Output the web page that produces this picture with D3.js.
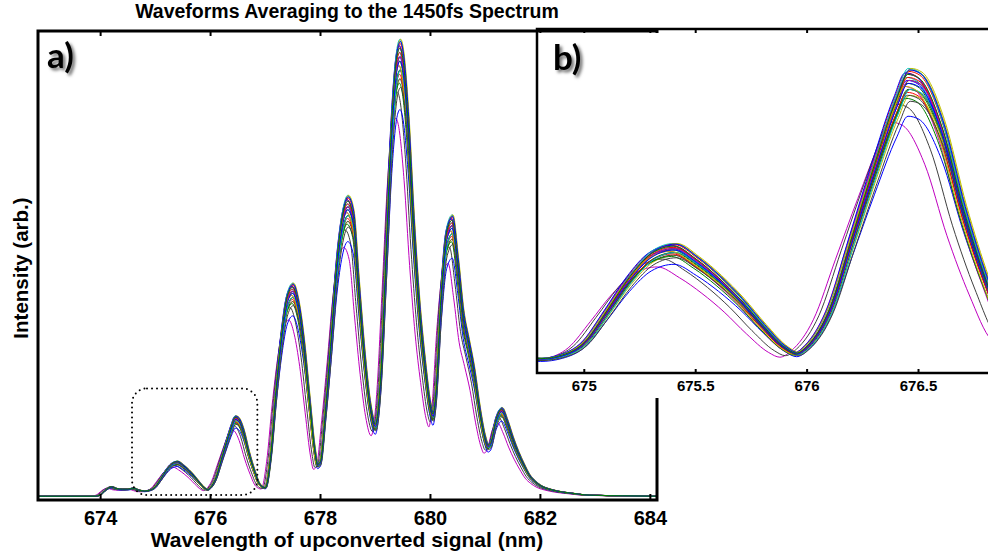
<!DOCTYPE html>
<html>
<head>
<meta charset="utf-8">
<script src="https://cdn.jsdelivr.net/npm/d3@7"></script>
<style>
  body { margin: 0; background: #fff; }
  svg { display: block; }
</style>
</head>
<body>
<script>
/* data */

// wavelength grid (nm) and the averaged spectrum on it (arb. units, 1 = top of panel a)
var wavelengths = [672.87, 673.0, 673.5, 673.9, 674.0, 674.1, 674.2, 674.3, 674.4, 674.5,
    674.6, 674.7, 674.8, 674.9, 675.0, 675.1, 675.2, 675.3, 675.4, 675.5,
    675.6, 675.7, 675.8, 675.9, 675.95, 676.0, 676.1, 676.2, 676.3, 676.4,
    676.45, 676.5, 676.6, 676.7, 676.8, 676.9, 677.0, 677.1, 677.2, 677.3,
    677.4, 677.5, 677.6, 677.7, 677.8, 677.9, 677.95, 678.0, 678.1, 678.2,
    678.3, 678.4, 678.5, 678.6, 678.7, 678.8, 678.9, 679.0, 679.1, 679.2,
    679.3, 679.4, 679.45, 679.5, 679.6, 679.7, 679.8, 679.9, 680.0, 680.05,
    680.1, 680.2, 680.3, 680.4, 680.5, 680.6, 680.7, 680.8, 680.9, 681.0,
    681.05, 681.1, 681.2, 681.3, 681.4, 681.5, 681.6, 681.7, 681.8, 681.9,
    682.0, 682.2, 682.4, 682.6, 682.8, 683.0, 683.5, 684.13];
var meanIntensity = [0.008, 0.008, 0.008, 0.008, 0.011, 0.022, 0.028, 0.024, 0.023, 0.023,
    0.025, 0.021, 0.019, 0.021, 0.028, 0.045, 0.063, 0.076, 0.080, 0.073,
    0.063, 0.051, 0.037, 0.025, 0.022, 0.026, 0.046, 0.085, 0.124, 0.160,
    0.173, 0.171, 0.146, 0.100, 0.062, 0.033, 0.026, 0.095, 0.235, 0.350,
    0.425, 0.445, 0.410, 0.330, 0.215, 0.105, 0.075, 0.080, 0.195, 0.340,
    0.495, 0.590, 0.625, 0.595, 0.450, 0.310, 0.205, 0.158, 0.260, 0.520,
    0.790, 0.930, 0.945, 0.925, 0.790, 0.580, 0.410, 0.290, 0.200, 0.180,
    0.220, 0.430, 0.560, 0.585, 0.500, 0.390, 0.330, 0.270, 0.190, 0.130,
    0.115, 0.120, 0.170, 0.190, 0.165, 0.130, 0.100, 0.075, 0.053, 0.040,
    0.031, 0.022, 0.017, 0.014, 0.011, 0.010, 0.009, 0.008];
var baseLevel = 0.008;

// each single waveform: wavelength offset (nm) and height relative to the average
var traceShift = [0.000, 0.005, -0.005, 0.010, -0.070, 0.015, -0.045, 0.005, 0.000, 0.008,
    -0.005, -0.015, 0.012, 0.003, -0.008, 0.010, 0.000, 0.006, 0.002, 0.018,
    0.010, 0.012, -0.006, 0.004, 0.014, 0.008, -0.010, 0.015, 0.006, 0.004];
var traceGain = [1.00, 0.97, 1.025, 1.035, 0.86, 1.035, 0.92, 0.88, 0.99, 1.03,
    1.01, 0.98, 0.95, 0.95, 1.025, 1.00, 0.96, 1.04, 1.02, 1.04,
    0.97, 1.035, 0.94, 1.01, 0.97, 1.00, 0.98, 0.93, 0.99, 1.02];
// MATLAB colour order b g r c m y k
var lineColors = ["#0000ff", "#008000", "#ff0000", "#00bfbf", "#bf00bf", "#bfbf00", "#404040"];

var mainTicks = [674, 676, 678, 680, 682, 684];
var insetTicks = [675, 675.5, 676, 676.5];
var zoomBoxX = [674.58, 676.86];
var zoomBoxY = [0.0106, 0.238];

var width = 988, height = 557;
var fontFamily = "'Liberation Sans', Arial, Helvetica, sans-serif";

var traces = traceShift.map(function(s, i){
    return wavelengths.map(function(w, j){
        return {w: w + s, v: baseLevel + (meanIntensity[j] - baseLevel) * traceGain[i]};
    });
});

var svg = d3.select("body")
    .append("svg").attr("width", width).attr("height", height)
    .style("font-family", fontFamily);

var defs = svg.append("defs");
var shadow = defs.append("filter").attr("id", "shadow")
    .attr("x", "-20%").attr("y", "-20%").attr("width", "160%").attr("height", "160%");
shadow.append("feDropShadow").attr("dx", 2.5).attr("dy", 2.5)
    .attr("stdDeviation", 1.6).attr("flood-color", "#000").attr("flood-opacity", 0.55);

/* panel a) */
var x = d3.scaleLinear().domain([672.87, 684.13]).range([38, 657]);
var y = d3.scaleLinear().domain([0, 1]).range([500, 31]);

defs.append("clipPath").attr("id", "clipMain").append("rect")
    .attr("x", x.range()[0]).attr("y", y.range()[1])
    .attr("width", x.range()[1] - x.range()[0]).attr("height", y.range()[0] - y.range()[1]);

var lineMain = d3.line().x(function(d){ return x(d.w); }).y(function(d){ return y(d.v); })
    .curve(d3.curveMonotoneX);

svg.append("g").attr("clip-path", "url(#clipMain)")
    .selectAll("path").data(traces).enter().append("path")
    .attr("d", lineMain)
    .attr("fill", "none")
    .attr("stroke", function(d, i){ return lineColors[i % lineColors.length]; })
    .attr("stroke-width", 1);

// dotted box marking the zoomed region
svg.append("rect")
    .attr("x", x(zoomBoxX[0])).attr("y", y(zoomBoxY[1]))
    .attr("width", x(zoomBoxX[1]) - x(zoomBoxX[0]))
    .attr("height", y(zoomBoxY[0]) - y(zoomBoxY[1]))
    .attr("rx", 15).attr("ry", 15)
    .attr("fill", "none").attr("stroke", "#000").attr("stroke-width", 2)
    .attr("stroke-linecap", "round").attr("stroke-dasharray", "0,5");

var xAxis = d3.axisBottom(x).tickValues(mainTicks).tickSizeInner(-6).tickSizeOuter(0)
    .tickPadding(11).tickFormat(d3.format("d"));
var gx = svg.append("g").attr("transform", "translate(0," + y.range()[0] + ")").call(xAxis);
gx.select(".domain").remove();
gx.selectAll(".tick line").attr("stroke-width", 2);
gx.selectAll("text").style("font-size", "20px").style("font-weight", "bold").attr("fill", "#000");

var xAxisTop = d3.axisTop(x).tickValues(mainTicks).tickSizeInner(-5).tickSizeOuter(0).tickFormat("");
var gxt = svg.append("g").attr("transform", "translate(0," + y.range()[1] + ")").call(xAxisTop);
gxt.select(".domain").remove();
gxt.selectAll(".tick line").attr("stroke-width", 2);

svg.append("rect")
    .attr("x", x.range()[0]).attr("y", y.range()[1])
    .attr("width", x.range()[1] - x.range()[0]).attr("height", y.range()[0] - y.range()[1])
    .attr("fill", "none").attr("stroke", "#000").attr("stroke-width", 3);

svg.append("text").attr("x", 47).attr("y", 68)
    .style("font-family", "Lato, 'Open Sans', sans-serif").style("font-weight", "bold")
    .style("font-size", "35px").attr("filter", "url(#shadow)").text("a)");

//Add in titles
svg.append("text").attr("x", 347).attr("y", 18).attr("text-anchor", "middle")
    .style("font-size", "19.5px").style("font-weight", "bold")
    .text("Waveforms Averaging to the 1450fs Spectrum");

svg.append("text").attr("x", 347).attr("y", 547).attr("text-anchor", "middle")
    .style("font-size", "21px").style("font-weight", "bold")
    .text("Wavelength of upconverted signal (nm)");

svg.append("text").attr("transform", "translate(28,268) rotate(-90)").attr("text-anchor", "middle")
    .style("font-size", "20.5px").style("font-weight", "bold")
    .text("Intensity (arb.)");

/* panel b), the inset */
var xi = d3.scaleLinear().domain([674.79, 676.85]).range([537, 996]);
var yi = d3.scaleLinear().domain([0.0113, 0.2014]).range([373, 29]);

svg.append("rect").attr("x", 533).attr("y", 33).attr("width", width - 533).attr("height", 365)
    .attr("fill", "#fff");

defs.append("clipPath").attr("id", "clipInset").append("rect")
    .attr("x", xi.range()[0]).attr("y", yi.range()[1])
    .attr("width", xi.range()[1] - xi.range()[0]).attr("height", yi.range()[0] - yi.range()[1]);

var lineInset = d3.line().x(function(d){ return xi(d.w); }).y(function(d){ return yi(d.v); })
    .curve(d3.curveMonotoneX);

svg.append("g").attr("clip-path", "url(#clipInset)")
    .selectAll("path").data(traces).enter().append("path")
    .attr("d", lineInset)
    .attr("fill", "none")
    .attr("stroke", function(d, i){ return lineColors[i % lineColors.length]; })
    .attr("stroke-width", 1);

var xiAxis = d3.axisBottom(xi).tickValues(insetTicks).tickSizeInner(-4).tickSizeOuter(0)
    .tickPadding(7.5).tickFormat(function(d){ return d; });
var gxi = svg.append("g").attr("transform", "translate(0," + yi.range()[0] + ")").call(xiAxis);
gxi.select(".domain").remove();
gxi.selectAll(".tick line").attr("stroke-width", 2);
gxi.selectAll("text").style("font-size", "15px").style("font-weight", "bold").attr("fill", "#000");

var xiAxisTop = d3.axisTop(xi).tickValues(insetTicks).tickSizeInner(-4).tickSizeOuter(0).tickFormat("");
var gxit = svg.append("g").attr("transform", "translate(0," + yi.range()[1] + ")").call(xiAxisTop);
gxit.select(".domain").remove();
gxit.selectAll(".tick line").attr("stroke-width", 2);

svg.append("rect")
    .attr("x", xi.range()[0]).attr("y", yi.range()[1])
    .attr("width", xi.range()[1] - xi.range()[0]).attr("height", yi.range()[0] - yi.range()[1])
    .attr("fill", "none").attr("stroke", "#000").attr("stroke-width", 2.5);

svg.append("text").attr("x", 553).attr("y", 70)
    .style("font-family", "Lato, 'Open Sans', sans-serif").style("font-weight", "bold")
    .style("font-size", "35px").attr("filter", "url(#shadow)").text("b)");
</script>
</body>
</html>
